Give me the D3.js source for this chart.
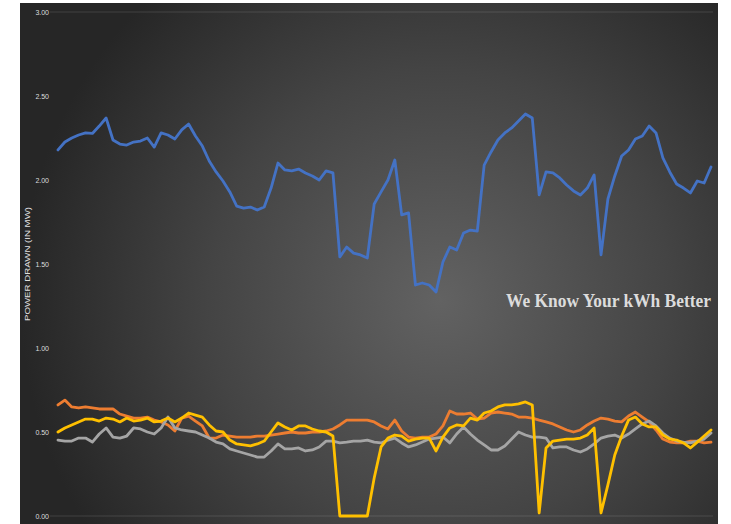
<!DOCTYPE html>
<html>
<head>
<meta charset="utf-8">
<script src="https://cdn.jsdelivr.net/npm/d3@7"></script>
<style>
  html, body { margin: 0; padding: 0; background: #ffffff; }
  svg { display: block; }
</style>
</head>
<body>
<svg id="chart" width="731" height="524"></svg>
<script>
// Power drawn over one day, 96 quarter-hour readings (MW)
const slots = d3.range(96);

const feederA = [2.179,2.226,2.25,2.268,2.28,2.277,2.321,2.369,2.238,2.214,2.208,2.226,2.232,2.25,2.196,2.28,2.268,2.244,2.298,2.333,
  2.262,2.202,2.113,2.048,1.994,1.929,1.845,1.833,1.839,1.821,1.839,1.952,2.101,2.06,2.054,2.065,2.042,2.024,2.0,2.054,
  2.042,1.542,1.601,1.565,1.554,1.536,1.857,1.929,2.0,2.119,1.792,1.804,1.375,1.387,1.375,1.333,1.512,1.601,1.583,1.685,
  1.702,1.696,2.089,2.167,2.238,2.28,2.31,2.351,2.393,2.369,1.911,2.048,2.042,2.012,1.97,1.935,1.911,1.952,2.03,1.554,
  1.887,2.024,2.143,2.179,2.244,2.262,2.321,2.28,2.131,2.048,1.976,1.952,1.923,1.994,1.982,2.077];

const feederB = [0.661,0.69,0.649,0.643,0.649,0.643,0.637,0.637,0.637,0.607,0.595,0.583,0.583,0.589,0.571,0.56,0.542,0.506,0.583,0.595,
  0.565,0.536,0.464,0.464,0.482,0.476,0.47,0.47,0.47,0.476,0.476,0.482,0.488,0.494,0.5,0.494,0.494,0.5,0.5,0.506,
  0.518,0.542,0.571,0.571,0.571,0.571,0.56,0.536,0.518,0.571,0.506,0.47,0.464,0.47,0.47,0.488,0.536,0.625,0.607,0.607,
  0.613,0.577,0.583,0.613,0.619,0.613,0.607,0.589,0.589,0.583,0.571,0.56,0.548,0.53,0.512,0.5,0.512,0.542,0.565,0.583,
  0.577,0.565,0.56,0.595,0.619,0.589,0.56,0.512,0.458,0.44,0.435,0.435,0.446,0.446,0.435,0.44];

const feederC = [0.452,0.446,0.446,0.464,0.464,0.44,0.488,0.524,0.47,0.464,0.476,0.524,0.518,0.5,0.488,0.524,0.589,0.524,0.512,0.506,
  0.5,0.482,0.464,0.44,0.429,0.399,0.387,0.375,0.363,0.351,0.351,0.387,0.429,0.399,0.399,0.405,0.387,0.393,0.411,0.446,
  0.446,0.435,0.44,0.446,0.446,0.452,0.44,0.435,0.452,0.464,0.435,0.411,0.423,0.44,0.458,0.464,0.47,0.435,0.488,0.53,
  0.488,0.452,0.423,0.393,0.393,0.417,0.458,0.5,0.482,0.47,0.47,0.464,0.405,0.411,0.411,0.393,0.381,0.399,0.429,0.464,
  0.476,0.482,0.464,0.488,0.518,0.548,0.565,0.536,0.494,0.464,0.446,0.44,0.435,0.446,0.458,0.494];

const feederD = [0.5,0.524,0.542,0.56,0.577,0.577,0.565,0.583,0.577,0.56,0.583,0.565,0.571,0.583,0.56,0.565,0.583,0.56,0.583,0.613,
  0.601,0.589,0.542,0.506,0.5,0.452,0.429,0.423,0.417,0.429,0.446,0.5,0.554,0.53,0.512,0.536,0.536,0.518,0.506,0.5,
  0.476,0,0,0,0,0,0.226,0.411,0.464,0.482,0.476,0.446,0.458,0.464,0.464,0.387,0.47,0.524,0.542,0.536,
  0.583,0.571,0.613,0.625,0.649,0.661,0.661,0.667,0.679,0.661,0.018,0.405,0.446,0.452,0.458,0.458,0.464,0.482,0.524,0.018,
  0.185,0.363,0.476,0.571,0.589,0.548,0.53,0.53,0.482,0.458,0.452,0.435,0.405,0.44,0.476,0.512];

const tickValues = [0, 0.5, 1, 1.5, 2, 2.5, 3];
const axisTitle = "POWER DRAWN (IN MW)";
const tagline = "We Know Your kWh Better";

const seriesList = [
  { name: "Feeder A", values: feederA, color: "#4472C4" },
  { name: "Feeder B", values: feederB, color: "#ED7D31" },
  { name: "Feeder C", values: feederC, color: "#A5A5A5" },
  { name: "Feeder D", values: feederD, color: "#FFC000" }
];

const svg = d3.select("#chart");

// dark radial backdrop
const defs = svg.append("defs");
const grad = defs.append("radialGradient")
  .attr("id", "bg")
  .attr("gradientUnits", "userSpaceOnUse")
  .attr("cx", 440).attr("cy", 300).attr("r", 420);
grad.append("stop").attr("offset", "0%").attr("stop-color", "#626262");
grad.append("stop").attr("offset", "55%").attr("stop-color", "#444444");
grad.append("stop").attr("offset", "100%").attr("stop-color", "#262626");

svg.append("rect")
  .attr("x", 20).attr("y", 3)
  .attr("width", 698).attr("height", 521)
  .attr("fill", "url(#bg)");

const x = d3.scaleLinear().domain([0, 95]).range([58, 711]);
const y = d3.scaleLinear().domain([0, 3]).range([516, 12]);

// gridlines at the top and bottom of the range
svg.append("g")
  .selectAll("line")
  .data([0, 3])
  .join("line")
  .attr("x1", 50).attr("x2", 713)
  .attr("y1", d => y(d)).attr("y2", d => y(d))
  .attr("stroke", "rgba(255,255,255,0.13)")
  .attr("stroke-width", 1);

// y axis labels
const yAxis = svg.append("g")
  .attr("transform", "translate(50,0)")
  .call(d3.axisLeft(y).tickValues(tickValues).tickFormat(d3.format(".2f")).tickSize(0).tickPadding(1));
yAxis.select(".domain").remove();
yAxis.selectAll("text")
  .attr("fill", "#dedede")
  .attr("font-family", "Liberation Sans, Arial, sans-serif")
  .attr("font-size", 7);

// axis title
svg.append("text")
  .attr("transform", "translate(30,264) rotate(-90)")
  .attr("text-anchor", "middle")
  .attr("fill", "#e0e0e0")
  .attr("font-family", "Liberation Sans, Arial, sans-serif")
  .attr("font-size", 7.5)
  .attr("textLength", 114)
  .attr("lengthAdjust", "spacingAndGlyphs")
  .text(axisTitle);

// series lines
const line = d3.line()
  .x((d, i) => x(slots[i]))
  .y(d => y(d));

svg.append("g")
  .selectAll("path")
  .data(seriesList)
  .join("path")
  .attr("d", s => line(s.values))
  .attr("fill", "none")
  .attr("stroke", s => s.color)
  .attr("stroke-width", 2.8)
  .attr("stroke-linejoin", "round")
  .attr("stroke-linecap", "round");

// tagline, set slightly taller than wide
svg.append("text")
  .attr("transform", "translate(506,307) scale(1,1.1)")
  .attr("fill", "#dcdcdc")
  .attr("font-family", "Liberation Serif, Times New Roman, serif")
  .attr("font-weight", "bold")
  .attr("font-size", 18)
  .attr("textLength", 205)
  .attr("lengthAdjust", "spacingAndGlyphs")
  .text(tagline);
</script>
</body>
</html>
